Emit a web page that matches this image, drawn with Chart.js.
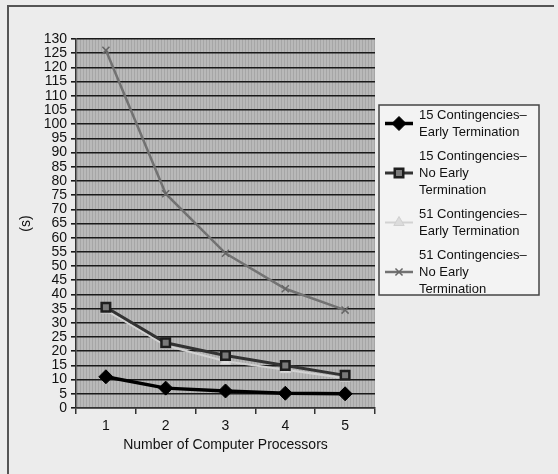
<!DOCTYPE html>
<html>
<head>
<meta charset="utf-8">
<script src="https://cdn.jsdelivr.net/npm/chart.js@4.4.1/dist/chart.umd.min.js"></script>
<style>
  html, body { margin: 0; padding: 0; background: #ececec; }
  #wrap { width: 558px; height: 474px; position: relative; }
</style>
</head>
<body>
<div id="wrap"><canvas id="procChart" width="558" height="474"></canvas></div>
<script>
// values
const processors = ['1', '2', '3', '4', '5'];
const early15 = [11, 7, 6, 5.2, 5];
const noEarly15 = [35.5, 23, 18.5, 15, 11.5];
const early51 = [34.5, 22, 16.5, 13.5, 10.5];
const noEarly51 = [126, 75.5, 54.5, 42, 34.5];

const legendLines = [
    ['15 Contingencies–', 'Early Termination'],
    ['15 Contingencies–', 'No Early', 'Termination'],
    ['51 Contingencies–', 'Early Termination'],
    ['51 Contingencies–', 'No Early', 'Termination']
];

const yMax = 130;
const yStep = 5;

const FONT = '"Liberation Sans", Arial, sans-serif';

// grey dithered plot area + outer frame
const backdrop = {
    id: 'backdrop',
    beforeDraw(chart) {
        const { ctx, chartArea: a } = chart;
        ctx.save();
        ctx.fillStyle = '#ececec';
        ctx.fillRect(0, 0, chart.width, chart.height);
        ctx.fillStyle = '#b9b9b9';
        ctx.fillRect(a.left, a.top, a.right - a.left, a.bottom - a.top);
        ctx.fillStyle = 'rgba(110,110,110,0.25)';
        for (let x = a.left + 1; x < a.right; x += 3) {
            ctx.fillRect(x, a.top, 1, a.bottom - a.top);
        }
        // frame (top and left only, like the scan)
        ctx.strokeStyle = '#555';
        ctx.lineWidth = 2;
        ctx.beginPath();
        ctx.moveTo(8, chart.height);
        ctx.lineTo(8, 6);
        ctx.lineTo(chart.width - 4, 6);
        ctx.stroke();
        ctx.restore();
    }
};

// boxed legend at the right, multi-line labels
const sideLegend = {
    id: 'sideLegend',
    afterDraw(chart) {
        const { ctx } = chart;
        const box = { x: 379, y: 105, w: 160, h: 190 };
        const lineH = 17;
        const gap = 7;
        ctx.save();
        ctx.fillStyle = '#f3f3f3';
        ctx.fillRect(box.x, box.y, box.w, box.h);
        ctx.strokeStyle = '#444';
        ctx.lineWidth = 1.5;
        ctx.strokeRect(box.x, box.y, box.w, box.h);

        let y = 115;
        chart.data.datasets.forEach((ds, i) => {
            const lines = legendLines[i];
            const mid = y + (lines.length - 1) * lineH / 2;
            ctx.strokeStyle = ds.borderColor;
            ctx.lineWidth = ds.borderWidth;
            ctx.beginPath();
            ctx.moveTo(385, mid);
            ctx.lineTo(413, mid);
            ctx.stroke();
            ctx.fillStyle = ds.pointBackgroundColor;
            ctx.strokeStyle = ds.pointBorderColor;
            ctx.lineWidth = ds.pointBorderWidth;
            Chart.helpers.drawPoint(ctx, {
                pointStyle: ds.pointStyle,
                radius: ds.pointRadius,
                borderWidth: ds.pointBorderWidth
            }, 399, mid);

            ctx.fillStyle = '#111';
            ctx.font = '13px ' + FONT;
            ctx.textBaseline = 'middle';
            ctx.textAlign = 'left';
            lines.forEach((t, k) => ctx.fillText(t, 419, y + k * lineH));
            y += lines.length * lineH + gap;
        });
        ctx.restore();
    }
};

new Chart(document.getElementById('procChart'), {
    type: 'line',
    data: {
        labels: processors,
        datasets: [
            {
                label: legendLines[0].join(' '),
                data: early15,
                borderColor: '#000',
                borderWidth: 3.5,
                pointStyle: 'rectRot',
                pointRadius: 7,
                pointBackgroundColor: '#000',
                pointBorderColor: '#000',
                pointBorderWidth: 1
            },
            {
                label: legendLines[1].join(' '),
                data: noEarly15,
                borderColor: '#333',
                borderWidth: 3,
                pointStyle: 'rect',
                pointRadius: 6,
                pointBackgroundColor: '#7a7a7a',
                pointBorderColor: '#1e1e1e',
                pointBorderWidth: 2.5
            },
            {
                label: legendLines[2].join(' '),
                data: early51,
                borderColor: '#d2d2d2',
                borderWidth: 2,
                pointStyle: 'triangle',
                pointRadius: 6,
                pointBackgroundColor: '#dcdcdc',
                pointBorderColor: '#d0d0d0',
                pointBorderWidth: 1
            },
            {
                label: legendLines[3].join(' '),
                data: noEarly51,
                borderColor: '#727272',
                borderWidth: 2.5,
                pointStyle: 'crossRot',
                pointRadius: 5,
                pointBackgroundColor: '#666',
                pointBorderColor: '#666',
                pointBorderWidth: 1.5
            }
        ]
    },
    options: {
        responsive: false,
        animation: false,
        tension: 0,
        layout: { padding: { left: 8, top: 39, right: 183, bottom: 20 } },
        plugins: {
            legend: { display: false },
            tooltip: { enabled: false }
        },
        scales: {
            x: {
                offset: true,
                grid: {
                    offset: true,
                    drawOnChartArea: false,
                    drawTicks: true,
                    tickLength: 6,
                    color: '#333',
                    lineWidth: 1.5
                },
                border: { color: '#333', width: 1.5 },
                ticks: {
                    padding: 4,
                    color: '#111',
                    font: { family: FONT, size: 14 }
                },
                title: {
                    display: true,
                    text: 'Number of Computer Processors',
                    color: '#111',
                    padding: 0,
                    font: { family: FONT, size: 14 }
                },
                afterFit(scale) { scale.height = 46; }
            },
            y: {
                min: 0,
                max: yMax,
                grid: {
                    color: '#1a1a1a',
                    lineWidth: 1.6,
                    tickLength: 5
                },
                border: { color: '#333', width: 1.5 },
                ticks: {
                    stepSize: yStep,
                    padding: 4,
                    color: '#111',
                    autoSkip: false,
                    font: { family: FONT, size: 14 }
                },
                title: {
                    display: true,
                    text: '(s)',
                    color: '#111',
                    padding: { top: 10, bottom: 0 },
                    font: { family: FONT, size: 14 }
                },
                afterFit(scale) { scale.width = 68; }
            }
        }
    },
    plugins: [backdrop, sideLegend]
});
</script>
</body>
</html>
